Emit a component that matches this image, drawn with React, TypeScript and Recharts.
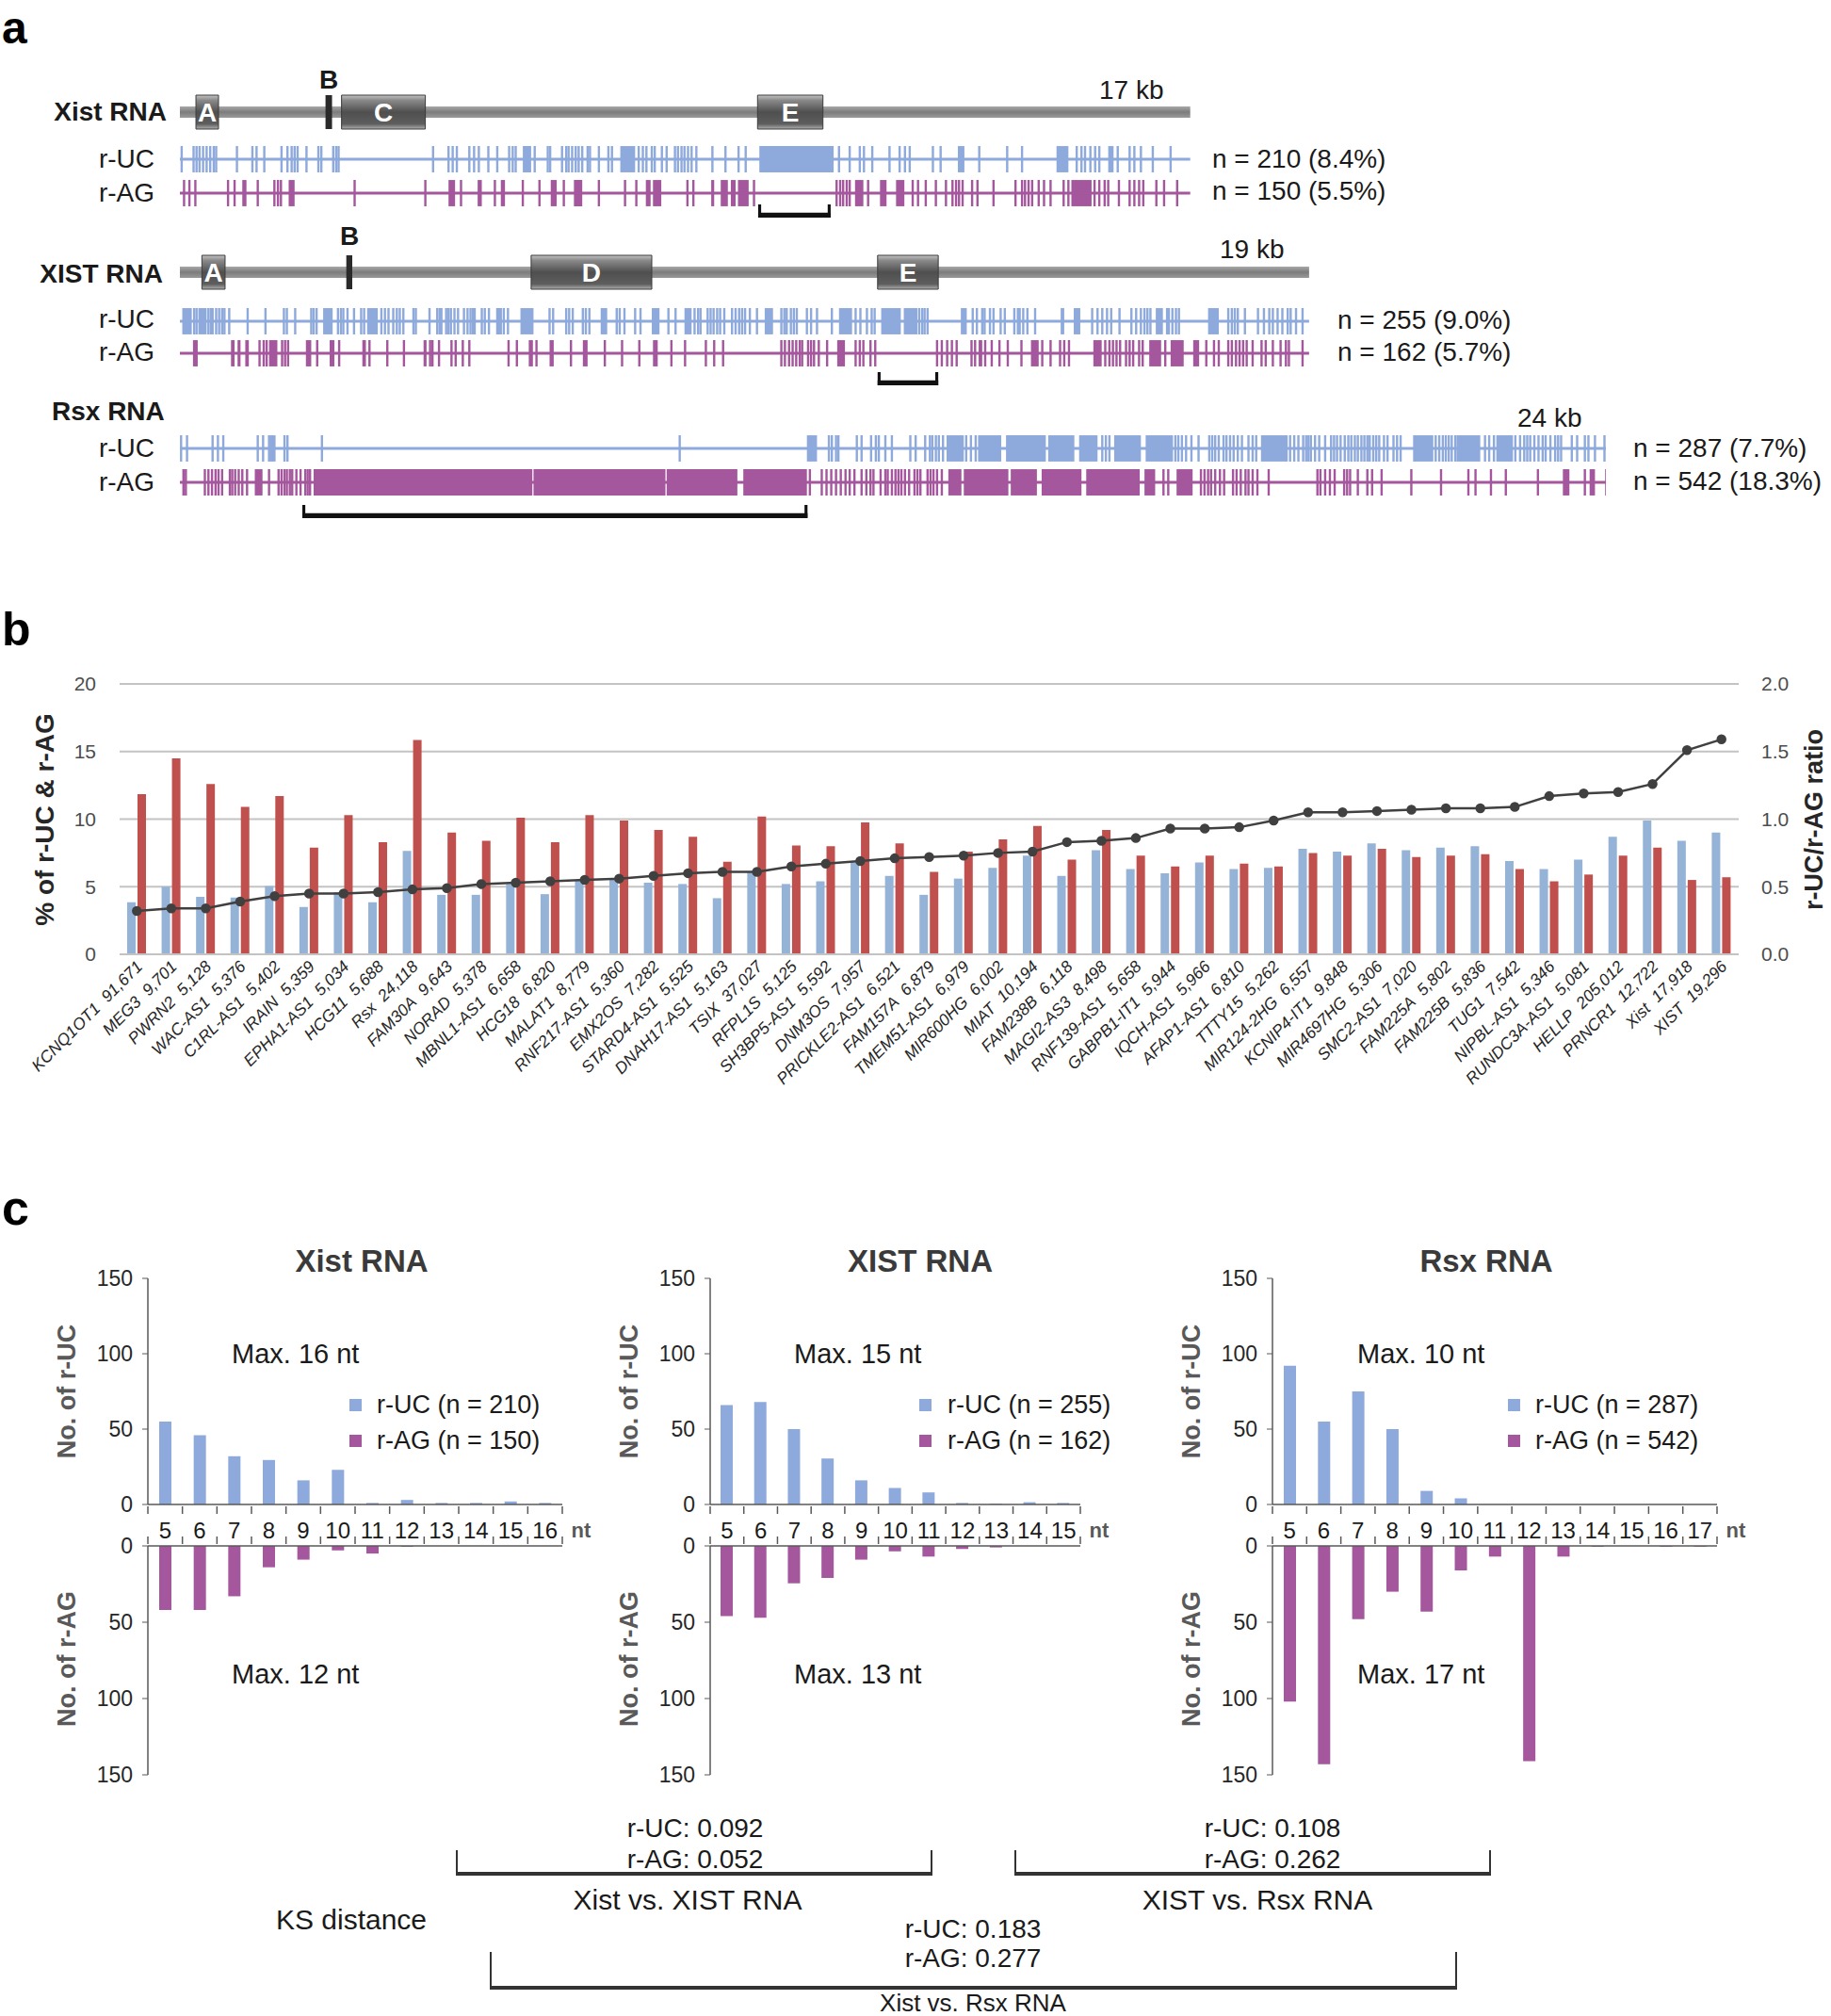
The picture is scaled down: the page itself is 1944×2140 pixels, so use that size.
import React from 'react';
import {
  ComposedChart, Bar, Line, Scatter, XAxis, YAxis, CartesianGrid,
  ReferenceArea, ReferenceLine,
} from 'recharts';

// ---------------- panel a : repeat maps (positions in kb) ----------------
const xistLen = 17;
const humanLen = 19;
const rsxLen = 24;

const xistDomains = [
  { name: 'A', start: 0.27, end: 0.65 },
  { name: 'C', start: 2.72, end: 4.13 },
  { name: 'E', start: 9.72, end: 10.82 },
];
const xistB = [2.45, 2.56];
const humanDomains = [
  { name: 'A', start: 0.37, end: 0.76 },
  { name: 'D', start: 5.91, end: 7.94 },
  { name: 'E', start: 11.74, end: 12.76 },
];
const humanB = [2.8, 2.9];

const xistUcTicks = [0.03, 0.23, 0.28, 0.33, 0.39, 0.45, 0.51, 0.57, 0.61, 0.96, 1.22, 1.29, 1.42, 1.71, 1.81, 1.88, 1.93, 1.98, 2.13, 2.33, 2.38, 2.58, 2.63, 2.67, 4.26, 4.52, 4.59, 4.66, 4.87, 4.95, 5.03, 5.19, 5.34, 5.54, 5.6, 5.65, 5.97, 6.19, 6.23, 6.43, 6.5, 6.54, 6.6, 6.66, 6.71, 6.77, 6.86, 6.9, 7.05, 7.21, 7.27, 7.72, 7.79, 7.85, 7.94, 7.99, 8.11, 8.19, 8.33, 8.38, 8.44, 8.49, 8.55, 8.61, 8.69, 8.96, 9.18, 9.4, 9.52, 11.09, 11.27, 11.44, 11.51, 11.65, 11.94, 12.11, 12.2, 12.28, 12.67, 12.8, 13.45, 13.92, 14.17, 15.09, 15.17, 15.23, 15.32, 15.4, 15.47, 15.78, 15.98, 16.06, 16.17, 16.37, 16.67];
const xistUcBlocks = [[5.77, 5.91], [7.41, 7.66], [9.75, 11.0], [13.09, 13.2], [14.75, 14.95], [15.62, 15.71]];
const xistAgTicks = [0.07, 0.16, 0.26, 0.81, 0.92, 1.31, 1.59, 1.65, 1.7, 2.94, 4.13, 4.73, 5.3, 5.77, 6.05, 6.46, 7.05, 7.49, 7.68, 8.54, 8.64, 9.66, 11.05, 11.11, 11.16, 11.22, 11.27, 11.58, 12.33, 12.42, 12.55, 12.72, 12.89, 13.0, 13.06, 13.11, 13.17, 13.33, 13.42, 13.69, 14.06, 14.17, 14.22, 14.28, 14.34, 14.45, 14.54, 14.65, 14.87, 14.95, 15.39, 15.47, 15.56, 15.62, 15.8, 15.98, 16.06, 16.14, 16.21, 16.43, 16.56, 16.78];
const xistAgBlocks = [[1.05, 1.12], [1.83, 1.93], [4.52, 4.63], [5.01, 5.08], [5.4, 5.47], [6.24, 6.34], [6.63, 6.77], [7.84, 7.92], [7.96, 8.1], [8.94, 8.99], [9.1, 9.22], [9.27, 9.35], [9.39, 9.57], [11.36, 11.5], [11.78, 11.89], [12.05, 12.19], [15.0, 15.34]];

const humanUcTicks = [0.24, 0.28, 0.48, 0.52, 0.55, 0.61, 0.66, 0.71, 0.75, 0.83, 1.14, 1.44, 1.75, 1.8, 1.94, 2.21, 2.25, 2.3, 2.66, 2.71, 2.75, 2.82, 2.93, 3.05, 3.1, 3.39, 3.45, 3.51, 3.59, 3.65, 3.7, 3.76, 3.93, 3.97, 4.2, 4.33, 4.37, 4.4, 4.48, 4.52, 4.56, 4.62, 4.68, 4.78, 4.84, 4.89, 4.93, 4.96, 5.08, 5.13, 5.2, 5.34, 5.37, 5.4, 5.45, 5.52, 6.22, 6.28, 6.5, 6.55, 6.61, 6.78, 6.83, 6.89, 7.35, 7.4, 7.48, 7.66, 7.75, 8.22, 8.34, 8.66, 8.72, 8.76, 8.88, 8.93, 8.98, 9.04, 9.09, 9.16, 9.29, 9.35, 9.41, 9.46, 9.51, 9.59, 9.71, 10.12, 10.17, 10.21, 10.28, 10.33, 10.38, 10.55, 10.62, 10.72, 10.97, 11.37, 11.45, 11.56, 11.64, 11.69, 12.44, 12.49, 12.53, 12.58, 13.34, 13.41, 13.5, 13.54, 13.63, 13.69, 13.81, 13.88, 14.04, 14.1, 14.13, 14.19, 14.26, 14.39, 15.35, 15.44, 15.52, 15.6, 15.67, 15.81, 16.01, 16.09, 16.17, 16.23, 16.28, 16.33, 16.61, 16.64, 16.7, 16.76, 16.81, 17.64, 17.7, 17.75, 17.8, 17.92, 18.14, 18.24, 18.33, 18.39, 18.47, 18.55, 18.64, 18.69, 18.78, 18.89];
const humanUcBlocks = [[0.04, 0.2], [0.31, 0.45], [2.41, 2.57], [3.15, 3.33], [5.73, 5.95], [7.08, 7.19], [7.94, 8.07], [8.49, 8.61], [9.84, 9.98], [11.09, 11.31], [11.8, 12.13], [12.18, 12.41], [13.14, 13.24], [14.82, 14.88], [15.04, 15.15], [16.42, 16.54], [17.3, 17.48]];
const humanAgTicks = [1.34, 1.41, 1.46, 1.72, 1.77, 1.82, 2.31, 2.68, 3.19, 3.49, 3.77, 4.21, 4.25, 4.36, 4.57, 4.64, 4.76, 4.87, 5.53, 5.67, 6.0, 6.58, 7.15, 7.44, 7.73, 8.27, 8.5, 8.85, 8.99, 9.14, 10.12, 10.18, 10.25, 10.31, 10.37, 10.43, 10.47, 10.57, 10.62, 10.67, 10.75, 10.89, 11.37, 11.44, 11.5, 11.62, 11.7, 12.74, 12.82, 12.91, 12.99, 13.07, 13.32, 13.38, 13.55, 13.66, 13.79, 13.93, 14.16, 14.51, 14.65, 14.81, 14.88, 14.96, 15.57, 15.64, 15.7, 15.76, 15.82, 15.92, 15.98, 16.04, 16.14, 16.2, 16.58, 17.27, 17.4, 17.48, 17.64, 17.7, 17.77, 17.83, 17.89, 17.95, 18.05, 18.2, 18.27, 18.39, 18.52, 18.61, 18.66, 18.89];
const humanAgBlocks = [[0.22, 0.3], [0.86, 0.92], [0.97, 1.02], [1.1, 1.16], [1.5, 1.64], [2.12, 2.21], [2.52, 2.6], [3.07, 3.13], [4.1, 4.15], [5.87, 5.94], [6.22, 6.29], [6.78, 6.86], [7.96, 8.04], [11.06, 11.19], [13.44, 13.5], [14.32, 14.45], [15.37, 15.51], [16.31, 16.51], [16.67, 16.89], [17.05, 17.15]];

const rsxUcTicks = [0.02, 0.12, 0.55, 0.64, 0.73, 1.31, 1.4, 1.5, 1.76, 1.81, 2.39, 8.41, 10.92, 10.97, 11.04, 11.08, 11.39, 11.47, 11.63, 11.71, 11.76, 11.87, 11.98, 12.29, 12.38, 12.54, 12.62, 12.66, 12.72, 12.77, 12.84, 13.23, 13.31, 13.39, 15.52, 15.58, 15.64, 16.75, 16.8, 16.86, 16.93, 17.02, 17.14, 17.32, 17.37, 17.42, 17.48, 17.56, 17.61, 17.67, 17.73, 17.8, 17.87, 17.98, 18.05, 18.11, 18.68, 18.75, 18.82, 18.9, 18.95, 18.99, 19.03, 19.1, 19.17, 19.27, 19.37, 19.42, 19.47, 19.53, 19.6, 19.66, 19.71, 19.77, 19.82, 19.88, 19.93, 19.98, 20.02, 20.08, 20.13, 20.18, 20.26, 20.32, 20.42, 20.48, 20.54, 21.13, 21.19, 21.25, 21.3, 21.35, 21.4, 21.46, 21.96, 22.03, 22.11, 22.47, 22.55, 22.62, 22.67, 22.72, 22.79, 22.86, 22.93, 22.98, 23.06, 23.14, 23.19, 23.24, 23.42, 23.51, 23.64, 23.7, 23.81, 23.97];
const rsxUcBlocks = [[1.51, 1.61], [10.55, 10.72], [12.9, 13.19], [13.43, 13.82], [13.9, 14.57], [14.61, 15.05], [15.13, 15.44], [15.72, 16.17], [16.25, 16.71], [18.19, 18.64], [20.75, 21.09], [21.48, 21.88], [22.15, 22.43]];
const rsxAgTicks = [0.06, 0.1, 0.42, 0.48, 0.54, 0.6, 0.65, 0.71, 0.84, 0.88, 0.93, 0.99, 1.05, 1.13, 1.5, 1.66, 1.71, 1.76, 1.8, 1.85, 1.89, 1.96, 2.03, 2.11, 2.15, 2.19, 10.6, 10.8, 10.88, 10.96, 11.04, 11.12, 11.2, 11.27, 11.35, 11.47, 11.55, 11.62, 11.67, 11.79, 11.87, 11.91, 11.98, 12.04, 12.09, 12.14, 12.2, 12.27, 12.36, 12.41, 12.46, 12.58, 12.63, 12.68, 12.74, 12.82, 16.55, 16.63, 17.18, 17.24, 17.3, 17.35, 17.42, 17.5, 17.57, 17.72, 17.78, 17.85, 17.93, 17.98, 18.05, 18.13, 18.32, 19.14, 19.19, 19.27, 19.35, 19.43, 19.59, 19.64, 19.69, 19.82, 19.98, 20.06, 20.22, 20.72, 21.22, 21.68, 21.8, 22.06, 22.31, 22.85, 23.64, 24.0];
const rsxAgBlocks = [[1.26, 1.39], [2.25, 5.93], [5.95, 8.17], [8.19, 9.38], [9.48, 10.55], [12.93, 13.15], [13.19, 13.94], [13.98, 14.42], [14.5, 15.17], [15.25, 16.15], [16.23, 16.41], [16.77, 17.04], [23.27, 23.38], [23.72, 23.81]];

const xistBracket = [9.73, 10.95];
const humanBracket = [11.74, 12.76];
const rsxBracket = [2.06, 10.56];

// ---------------- panel b ----------------
const genes = ['KCNQ1OT1', 'MEG3', 'PWRN2', 'WAC-AS1', 'C1RL-AS1', 'IRAIN', 'EPHA1-AS1', 'HCG11', 'Rsx', 'FAM30A', 'NORAD', 'MBNL1-AS1', 'HCG18', 'MALAT1', 'RNF217-AS1', 'EMX2OS', 'STARD4-AS1', 'DNAH17-AS1', 'TSIX', 'RFPL1S', 'SH3BP5-AS1', 'DNM3OS', 'PRICKLE2-AS1', 'FAM157A', 'TMEM51-AS1', 'MIR600HG', 'MIAT', 'FAM238B', 'MAGI2-AS3', 'RNF139-AS1', 'GABPB1-IT1', 'IQCH-AS1', 'AFAP1-AS1', 'TTTY15', 'MIR124-2HG', 'KCNIP4-IT1', 'MIR4697HG', 'SMC2-AS1', 'FAM225A', 'FAM225B', 'TUG1', 'NIPBL-AS1', 'RUNDC3A-AS1', 'HELLP', 'PRNCR1', 'Xist', 'XIST'];
const geneLengths = ['91,671', '9,701', '5,128', '5,376', '5,402', '5,359', '5,034', '5,688', '24,118', '9,643', '5,378', '6,658', '6,820', '8,779', '5,360', '7,282', '5,525', '5,163', '37,027', '5,125', '5,592', '7,957', '6,521', '6,879', '6,979', '6,002', '10,194', '6,118', '8,498', '5,658', '5,944', '5,966', '6,810', '5,262', '6,557', '9,848', '5,306', '7,020', '5,802', '5,836', '7,542', '5,346', '5,081', '205,012', '12,722', '17,918', '19,296'];
const ucPercent = [3.85, 5.0, 4.25, 4.2, 5.05, 3.5, 4.6, 3.85, 7.65, 4.4, 4.4, 5.2, 4.45, 5.5, 5.55, 5.3, 5.2, 4.15, 6.1, 5.2, 5.4, 6.8, 5.8, 4.4, 5.6, 6.4, 7.3, 5.8, 7.7, 6.3, 6.0, 6.8, 6.3, 6.4, 7.8, 7.6, 8.2, 7.7, 7.9, 8.0, 6.9, 6.3, 7.0, 8.7, 9.9, 8.4, 9.0];
const agPercent = [11.85, 14.5, 12.6, 10.9, 11.7, 7.9, 10.3, 8.3, 15.85, 9.0, 8.4, 10.1, 8.3, 10.3, 9.9, 9.2, 8.7, 6.85, 10.2, 8.05, 8.0, 9.75, 8.2, 6.1, 7.6, 8.5, 9.5, 7.0, 9.2, 7.3, 6.5, 7.3, 6.7, 6.5, 7.5, 7.3, 7.8, 7.2, 7.3, 7.4, 6.3, 5.4, 5.9, 7.3, 7.9, 5.5, 5.7];
const ucAgRatio = [0.32, 0.34, 0.34, 0.39, 0.43, 0.45, 0.45, 0.46, 0.48, 0.49, 0.52, 0.53, 0.54, 0.55, 0.56, 0.58, 0.6, 0.61, 0.61, 0.65, 0.67, 0.69, 0.71, 0.72, 0.73, 0.75, 0.76, 0.83, 0.84, 0.86, 0.93, 0.93, 0.94, 0.99, 1.05, 1.05, 1.06, 1.07, 1.08, 1.08, 1.09, 1.17, 1.19, 1.2, 1.26, 1.51, 1.59];
const pctTicks = [0, 5, 10, 15, 20];
const ratioTicks = [0, 0.5, 1, 1.5, 2];

// ---------------- panel c ----------------
const ntXist = [5, 6, 7, 8, 9, 10, 11, 12, 13, 14, 15, 16];
const ucXist = [55, 46, 32, 29.5, 16, 23, 1, 3, 1, 1, 2, 1];
const agXist = [42, 42, 33, 14, 9, 3, 5, 0.5, 0, 0, 0, 0];
const ntHuman = [5, 6, 7, 8, 9, 10, 11, 12, 13, 14, 15];
const ucHuman = [66, 68, 50, 30.5, 16, 11, 8, 1, 0.5, 1.5, 1];
const agHuman = [46, 47, 24.5, 21, 9, 3.5, 7, 2, 1, 0, 0];
const ntRsx = [5, 6, 7, 8, 9, 10, 11, 12, 13, 14, 15, 16, 17];
const ucRsx = [92, 55, 75, 50, 9, 4, 0, 0, 0, 0, 0, 0, 0];
const agRsx = [102, 143, 48, 30, 43, 16, 7, 141, 7, 0.5, 0, 0.5, 0.5];
const countTicks = [0, 50, 100, 150];

const FONT = '"Liberation Sans", Arial, Helvetica, sans-serif';
const TXT = '#1a1a1a';
const UC = '#8EA9DB';
const AG = '#A4579C';
const KB_PX = 63.1;
const TRACK_X = 191;

function Txt({ x, y, children, size = 28, bold = false, align = 'left', color = TXT }: any) {
  const tx = align === 'left' ? '0' : align === 'center' ? '-50%' : '-100%';
  return (
    <div style={{
      position: 'absolute', left: x, top: y, fontSize: size, fontWeight: bold ? 700 : 400, color,
      whiteSpace: 'nowrap', lineHeight: 1, transform: `translate(${tx}, -50%)`,
    }}>{children}</div>
  );
}

function VTxt({ x, y, children, size = 27, color = '#595959' }: any) {
  return (
    <div style={{
      position: 'absolute', left: x, top: y, fontSize: size, fontWeight: 700, color,
      whiteSpace: 'nowrap', lineHeight: 1, transform: 'translate(-50%, -50%) rotate(-90deg)',
    }}>{children}</div>
  );
}

function GeneRow({ len, cy, domains, bLine, gid }: any) {
  const pts = domains.map((d: any) => ({ x: d.start, y: 0 }));
  return (
    <div style={{ position: 'absolute', left: TRACK_X, top: cy - 20 }}>
      <ComposedChart width={len * KB_PX} height={40} data={pts} margin={{ top: 0, right: 0, bottom: 0, left: 0 }}>
        <defs>
          <linearGradient id={`bar${gid}`} x1="0" y1="0" x2="0" y2="1">
            <stop offset="0%" stopColor="#a8a8a8" />
            <stop offset="50%" stopColor="#7c7c7c" />
            <stop offset="100%" stopColor="#9a9a9a" />
          </linearGradient>
          <linearGradient id={`box${gid}`} x1="0" y1="0" x2="0" y2="1">
            <stop offset="0%" stopColor="#c4c4c4" />
            <stop offset="15%" stopColor="#8a8a8a" />
            <stop offset="50%" stopColor="#4f4f4f" />
            <stop offset="85%" stopColor="#5e5e5e" />
            <stop offset="100%" stopColor="#b0b0b0" />
          </linearGradient>
        </defs>
        <XAxis type="number" dataKey="x" domain={[0, len]} hide />
        <YAxis type="number" dataKey="y" domain={[-1, 1]} hide />
        <ReferenceArea x1={0} x2={len} y1={-0.3} y2={0.3} fill={`url(#bar${gid})`} fillOpacity={1} stroke="none" />
        <ReferenceArea x1={bLine[0]} x2={bLine[1]} y1={-0.9} y2={0.9} fill="#2a2a2a" fillOpacity={1} stroke="none" />
        {domains.map((d: any) => (
          <ReferenceArea key={d.name} x1={d.start} x2={d.end} y1={-0.9} y2={0.9}
            fill={`url(#box${gid})`} fillOpacity={1} stroke="#3a3a3a" strokeWidth={1}
            label={{ value: d.name, position: 'center', fill: '#ffffff', fontSize: 28, fontWeight: 700, fontFamily: FONT }} />
        ))}
      </ComposedChart>
    </div>
  );
}

function TrackRow({ len, cy, ticks, blocks, color }: any) {
  const pts = ticks.map((x: number) => ({ x, y: 0 }));
  return (
    <div style={{ position: 'absolute', left: TRACK_X, top: cy - 17 }}>
      <ComposedChart width={len * KB_PX} height={34} margin={{ top: 0, right: 0, bottom: 0, left: 0 }}>
        <XAxis type="number" dataKey="x" domain={[0, len]} hide />
        <YAxis type="number" dataKey="y" domain={[-1, 1]} hide />
        <ReferenceLine y={0} stroke={color} strokeWidth={3} />
        {blocks.map(([a, b]: number[], i: number) => (
          <ReferenceArea key={i} x1={a} x2={b} y1={-0.82} y2={0.82} fill={color} fillOpacity={1} stroke="none" />
        ))}
        <Scatter data={pts} fill={color} isAnimationActive={false}
          shape={(p: any) => <rect x={p.cx - 1.2} y={p.cy - 14} width={2.4} height={28} fill={color} />} />
      </ComposedChart>
    </div>
  );
}

function BracketRow({ len, top, range }: any) {
  const pts = [{ x: range[0], y: 0 }];
  return (
    <div style={{ position: 'absolute', left: TRACK_X, top }}>
      <ComposedChart width={len * KB_PX} height={14} data={pts} margin={{ top: 0, right: 0, bottom: 0, left: 0 }}>
        <XAxis type="number" dataKey="x" domain={[0, len]} hide />
        <YAxis type="number" dataKey="y" domain={[0, 1]} hide />
        <ReferenceArea x1={range[0]} x2={range[1]} y1={0} y2={0.38} fill="#111" fillOpacity={1} stroke="none" />
        <ReferenceArea x1={range[0]} x2={range[0] + 0.05} y1={0} y2={1} fill="#111" fillOpacity={1} stroke="none" />
        <ReferenceArea x1={range[1] - 0.05} x2={range[1]} y1={0} y2={1} fill="#111" fillOpacity={1} stroke="none" />
      </ComposedChart>
    </div>
  );
}

function PanelA() {
  return (
    <>
      <Txt x={177} y={119} bold align="right">Xist RNA</Txt>
      <Txt x={349} y={85} bold align="center">B</Txt>
      <Txt x={1167} y={96}>17 kb</Txt>
      <GeneRow len={xistLen} cy={119} domains={xistDomains} bLine={xistB} gid="m" />
      <Txt x={164} y={169} align="right">r-UC</Txt>
      <Txt x={164} y={205} align="right">r-AG</Txt>
      <TrackRow len={xistLen} cy={169} ticks={xistUcTicks} blocks={xistUcBlocks} color={UC} />
      <TrackRow len={xistLen} cy={205} ticks={xistAgTicks} blocks={xistAgBlocks} color={AG} />
      <Txt x={1287} y={169}>n = 210 (8.4%)</Txt>
      <Txt x={1287} y={203}>n = 150 (5.5%)</Txt>
      <BracketRow len={xistLen} top={217} range={xistBracket} />

      <Txt x={173} y={291} bold align="right">XIST RNA</Txt>
      <Txt x={371} y={251} bold align="center">B</Txt>
      <Txt x={1295} y={265}>19 kb</Txt>
      <GeneRow len={humanLen} cy={289} domains={humanDomains} bLine={humanB} gid="h" />
      <Txt x={164} y={339} align="right">r-UC</Txt>
      <Txt x={164} y={374} align="right">r-AG</Txt>
      <TrackRow len={humanLen} cy={341} ticks={humanUcTicks} blocks={humanUcBlocks} color={UC} />
      <TrackRow len={humanLen} cy={375} ticks={humanAgTicks} blocks={humanAgBlocks} color={AG} />
      <Txt x={1420} y={340}>n = 255 (9.0%)</Txt>
      <Txt x={1420} y={374}>n = 162 (5.7%)</Txt>
      <BracketRow len={humanLen} top={395} range={humanBracket} />

      <Txt x={55} y={437} bold>Rsx RNA</Txt>
      <Txt x={1611} y={444}>24 kb</Txt>
      <Txt x={164} y={476} align="right">r-UC</Txt>
      <Txt x={164} y={512} align="right">r-AG</Txt>
      <TrackRow len={rsxLen} cy={476} ticks={rsxUcTicks} blocks={rsxUcBlocks} color={UC} />
      <TrackRow len={rsxLen} cy={512} ticks={rsxAgTicks} blocks={rsxAgBlocks} color={AG} />
      <Txt x={1734} y={476}>n = 287 (7.7%)</Txt>
      <Txt x={1734} y={511}>n = 542 (18.3%)</Txt>
      <BracketRow len={rsxLen} top={536} range={rsxBracket} />
    </>
  );
}

const lenByGene: Record<string, string> = Object.fromEntries(genes.map((g, i) => [g, geneLengths[i]]));

function GeneTick(p: any) {
  const { x, y, payload } = p;
  const ax = x + 7;
  const ay = y + 12;
  return (
    <text x={ax} y={ay} textAnchor="end" transform={`rotate(-45, ${ax}, ${ay})`}
      fontSize={17.5} fontStyle="italic" fill="#262626" fontFamily={FONT}>
      {payload.value}{'\u00a0\u00a0'}{lenByGene[payload.value]}
    </text>
  );
}

function PanelB() {
  const data = genes.map((g, i) => ({ name: g, uc: ucPercent[i], ag: agPercent[i], ratio: ucAgRatio[i] }));
  return (
    <>
      <div style={{ position: 'absolute', left: 0, top: 700 }}>
        <ComposedChart width={1944} height={483} data={data} barGap={2}
          margin={{ top: 26, right: 28, left: 20, bottom: 0 }}>
          <CartesianGrid vertical={false} stroke="#C3C3C3" strokeWidth={2} yAxisId="left" />
          <XAxis dataKey="name" interval={0} height={170} tickSize={0} tickLine={false}
            axisLine={{ stroke: '#C3C3C3', strokeWidth: 2 }} tick={<GeneTick />} />
          <YAxis yAxisId="left" domain={[0, 20]} ticks={pctTicks} width={107} tickSize={0} tickMargin={25}
            axisLine={false} tickLine={false} tick={{ fontSize: 21, fill: '#4d4d4d', fontFamily: FONT }} />
          <YAxis yAxisId="right" orientation="right" domain={[0, 2]} ticks={ratioTicks} width={70}
            tickSize={0} tickMargin={24} axisLine={false} tickLine={false}
            tickFormatter={(v: number) => v.toFixed(1)}
            tick={{ fontSize: 21, fill: '#4d4d4d', fontFamily: FONT }} />
          <Bar yAxisId="left" dataKey="uc" fill="#95B3D7" barSize={9} isAnimationActive={false} />
          <Bar yAxisId="left" dataKey="ag" fill="#C0504D" barSize={9} isAnimationActive={false} />
          <Line yAxisId="right" dataKey="ratio" stroke="#404040" strokeWidth={2.5}
            dot={{ r: 4, fill: '#404040', stroke: '#404040' }} isAnimationActive={false} />
        </ComposedChart>
      </div>
      <VTxt x={48} y={870} size={28} color="#262626">% of r-UC &amp; r-AG</VTxt>
      <VTxt x={1926} y={870} size={27} color="#262626">r-UC/r-AG ratio</VTxt>
    </>
  );
}

function SplitBars({ title, titleX, cats, uc, ag, axisX, plotW, maxTop, maxBot, maxX, legX, sqX, ucN, agN }: any) {
  const n = cats.length;
  const step = plotW / n;
  const topData = cats.map((c: number, i: number) => ({ nt: String(c), v: uc[i] }));
  const botData = cats.map((c: number, i: number) => ({ nt: String(c), v: ag[i] }));
  const axisColor = '#595959';
  const topTick = (p: any) => {
    const { x, y, payload, index } = p;
    return (
      <g>
        <line x1={x - step / 2} y1={y} x2={x - step / 2} y2={y + 8} stroke={axisColor} strokeWidth={1.5} />
        {index === n - 1 && <line x1={x + step / 2} y1={y} x2={x + step / 2} y2={y + 8} stroke={axisColor} strokeWidth={1.5} />}
        <text x={x} y={y + 25} textAnchor="middle" dominantBaseline="central" fontSize={24} fill={TXT} fontFamily={FONT}>{payload.value}</text>
        {index === n - 1 && (
          <text x={x + step / 2 + 20} y={y + 25} textAnchor="middle" dominantBaseline="central" fontSize={22}
            fontWeight={700} fill={axisColor} fontFamily={FONT}>nt</text>
        )}
      </g>
    );
  };
  const botTick = (p: any) => {
    const { x, y, index } = p;
    return (
      <g>
        <line x1={x - step / 2} y1={y} x2={x - step / 2} y2={y - 8} stroke={axisColor} strokeWidth={1.5} />
        {index === n - 1 && <line x1={x + step / 2} y1={y} x2={x + step / 2} y2={y - 8} stroke={axisColor} strokeWidth={1.5} />}
      </g>
    );
  };
  const yTick = { fontSize: 23, fill: '#262626', fontFamily: FONT };
  return (
    <>
      <Txt x={titleX} y={1338} size={33} bold align="center" color="#3a3a3a">{title}</Txt>
      <div style={{ position: 'absolute', left: axisX - 60, top: 1357 - 14 }}>
        <ComposedChart width={60 + plotW + 60} height={14 + 240 + 44} data={topData}
          margin={{ top: 14, right: 60, left: 0, bottom: 0 }}>
          <XAxis dataKey="nt" interval={0} height={44} tickSize={0} tickLine={false}
            axisLine={{ stroke: axisColor, strokeWidth: 1.5 }} tick={topTick} />
          <YAxis domain={[0, 150]} ticks={countTicks} width={60} tickSize={6} tickMargin={10} interval={0}
            axisLine={{ stroke: axisColor, strokeWidth: 1.5 }} tickLine={{ stroke: axisColor }} tick={yTick} />
          <Bar dataKey="v" fill={UC} barSize={13} isAnimationActive={false} />
        </ComposedChart>
      </div>
      <div style={{ position: 'absolute', left: axisX - 60, top: 1641 - 10 - 16 }}>
        <ComposedChart width={60 + plotW + 60} height={16 + 10 + 243 + 16} data={botData}
          margin={{ top: 16, right: 60, left: 0, bottom: 16 }}>
          <XAxis dataKey="nt" orientation="top" interval={0} height={10} tickSize={0} tickLine={false}
            axisLine={{ stroke: axisColor, strokeWidth: 1.5 }} tick={botTick} />
          <YAxis domain={[0, 150]} reversed ticks={countTicks} width={60} tickSize={6} tickMargin={10} interval={0}
            axisLine={{ stroke: axisColor, strokeWidth: 1.5 }} tickLine={{ stroke: axisColor }} tick={yTick} />
          <Bar dataKey="v" fill={AG} barSize={13} isAnimationActive={false} />
        </ComposedChart>
      </div>
      <VTxt x={axisX - 86} y={1477}>No. of r-UC</VTxt>
      <VTxt x={axisX - 86} y={1761}>No. of r-AG</VTxt>
      <Txt x={maxX} y={1437} size={29}>{maxTop}</Txt>
      <Txt x={maxX} y={1777} size={29}>{maxBot}</Txt>
      <div style={{ position: 'absolute', left: sqX - 6, top: 1491 - 6, width: 13, height: 13, background: UC }} />
      <div style={{ position: 'absolute', left: sqX - 6, top: 1529 - 6, width: 13, height: 13, background: AG }} />
      <Txt x={legX} y={1491} size={27}>{`r-UC (n = ${ucN})`}</Txt>
      <Txt x={legX} y={1529} size={27}>{`r-AG (n = ${agN})`}</Txt>
    </>
  );
}

function Bracket({ left, top, width, height }: any) {
  return (
    <div style={{
      position: 'absolute', left, top, width, height, boxSizing: 'border-box',
      borderLeft: '2px solid #333', borderRight: '2px solid #333', borderBottom: '4px solid #333',
    }} />
  );
}

function PanelC() {
  return (
    <>
      <SplitBars title="Xist RNA" titleX={384} cats={ntXist} uc={ucXist} ag={agXist} axisX={157} plotW={440}
        maxTop="Max. 16 nt" maxBot="Max. 12 nt" maxX={246} sqX={377} legX={400} ucN={210} agN={150} />
      <SplitBars title="XIST RNA" titleX={977} cats={ntHuman} uc={ucHuman} ag={agHuman} axisX={754} plotW={393}
        maxTop="Max. 15 nt" maxBot="Max. 13 nt" maxX={843} sqX={982} legX={1006} ucN={255} agN={162} />
      <SplitBars title="Rsx RNA" titleX={1578} cats={ntRsx} uc={ucRsx} ag={agRsx} axisX={1351} plotW={472}
        maxTop="Max. 10 nt" maxBot="Max. 17 nt" maxX={1441} sqX={1607} legX={1630} ucN={287} agN={542} />

      <Txt x={738} y={1941} align="center">r-UC: 0.092</Txt>
      <Txt x={738} y={1974} align="center">r-AG: 0.052</Txt>
      <Bracket left={484} top={1964} width={506} height={27} />
      <Txt x={730} y={2017} size={30} align="center">Xist vs. XIST RNA</Txt>

      <Txt x={1351} y={1941} align="center">r-UC: 0.108</Txt>
      <Txt x={1351} y={1974} align="center">r-AG: 0.262</Txt>
      <Bracket left={1077} top={1964} width={506} height={27} />
      <Txt x={1335} y={2017} size={30} align="center">XIST vs. Rsx RNA</Txt>

      <Txt x={373} y={2038} size={30} align="center">KS distance</Txt>
      <Txt x={1033} y={2048} align="center">r-UC: 0.183</Txt>
      <Txt x={1033} y={2079} align="center">r-AG: 0.277</Txt>
      <Bracket left={520} top={2072} width={1027} height={40} />
      <Txt x={1033} y={2126} size={26} align="center">Xist vs. Rsx RNA</Txt>
    </>
  );
}

export default function App() {
  return (
    <div style={{
      position: 'absolute', left: 0, top: 0, width: 1944, height: 2140, overflow: 'hidden',
      background: '#ffffff', fontFamily: FONT, color: TXT,
    }}>
      <Txt x={2} y={30} size={48} bold color="#000">a</Txt>
      <Txt x={2} y={668} size={50} bold color="#000">b</Txt>
      <Txt x={2} y={1282} size={52} bold color="#000">c</Txt>
      <PanelA />
      <PanelB />
      <PanelC />
    </div>
  );
}
